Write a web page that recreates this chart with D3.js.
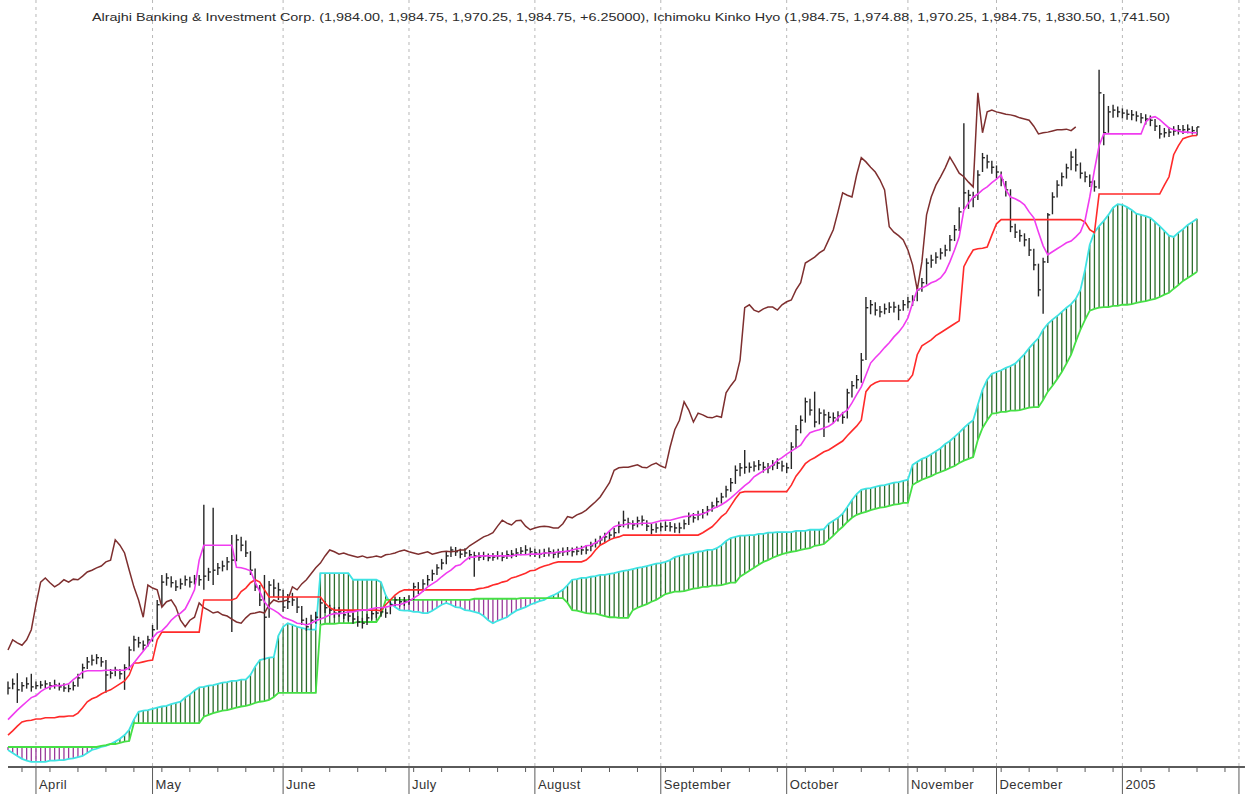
<!DOCTYPE html>
<html>
<head>
<meta charset="utf-8">
<script src="https://cdn.jsdelivr.net/npm/d3@7"></script>
<style>
  body { margin: 0; background: #fff; }
  svg { display: block; }
</style>
</head>
<body>
<script>
const WIDTH = 1251
const HEIGHT = 794

// Cours journaliers (plus haut, plus bas, clôture)
const high = [1053,1058,1067,1052,1060,1066,1053,1054,1055,1052,
  1056,1051,1050,1048,1053,1066,1083,1094,1098,1099,
  1094,1089,1074,1078,1074,1082,1112,1130,1128,1122,
  1130,1148,1190,1232,1235,1230,1223,1226,1231,1229,
  1232,1232,1350,1244,1345,1252,1256,1262,1299,1300,
  1296,1290,1272,1243,1215,1232,1222,1225,1219,1207,
  1200,1202,1195,1180,1160,1165,1170,1192,1188,1182,
  1178,1178,1175,1172,1168,1163,1160,1167,1174,1176,
  1177,1176,1188,1196,1195,1195,1198,1219,1220,1225,
  1232,1241,1250,1259,1271,1280,1279,1276,1277,1274,
  1271,1270,1271,1268,1269,1272,1270,1273,1274,1277,
  1279,1282,1278,1276,1275,1276,1278,1275,1276,1278,
  1279,1278,1280,1281,1282,1288,1293,1298,1303,1306,
  1311,1322,1340,1328,1324,1330,1332,1324,1318,1319,
  1320,1322,1321,1319,1320,1325,1337,1336,1340,1343,
  1348,1355,1362,1370,1382,1395,1416,1420,1442,1421,
  1423,1425,1422,1420,1425,1428,1424,1420,1455,1484,
  1500,1530,1528,1540,1512,1510,1506,1505,1507,1506,
  1545,1558,1568,1605,1699,1694,1690,1684,1688,1690,
  1691,1686,1694,1699,1702,1719,1731,1764,1770,1774,
  1781,1787,1803,1820,1850,1991,1879,1876,1912,1941,
  1938,1928,1920,1910,1894,1880,1822,1812,1806,1798,
  1780,1755,1765,1840,1875,1895,1908,1923,1944,1948,
  1925,1910,1905,1895,2081,2040,2020,2022,2019,2016,
  2014,2013,2011,2008,2006,2004,1998,1988,1983,1984,
  1986,1988,1988,1989,1986,1984.75]

const low = [1031,1040,1017,1036,1041,1036,1040,1041,1042,1039,
  1041,1038,1036,1035,1038,1044,1058,1074,1080,1082,
  1078,1034,1058,1062,1057,1039,1072,1104,1110,1105,
  1112,1120,1140,1180,1214,1211,1205,1208,1214,1211,
  1216,1214,1207,1222,1215,1232,1238,1240,1136,1255,
  1272,1262,1232,1205,1180,1089,1160,1195,1190,1170,
  1175,1180,1168,1148,1138,1140,1150,1158,1168,1165,
  1160,1162,1158,1155,1150,1145,1142,1148,1157,1160,
  1162,1160,1166,1180,1179,1180,1182,1190,1200,1204,
  1214,1222,1232,1241,1250,1262,1264,1260,1262,1258,
  1229,1256,1257,1255,1256,1258,1255,1259,1260,1262,
  1265,1266,1263,1262,1260,1262,1263,1260,1261,1264,
  1265,1263,1265,1266,1267,1272,1278,1282,1287,1290,
  1294,1302,1312,1310,1308,1312,1315,1306,1300,1303,
  1305,1306,1305,1303,1302,1309,1316,1320,1324,1327,
  1332,1338,1345,1352,1362,1372,1385,1398,1402,1404,
  1406,1408,1404,1403,1408,1410,1406,1403,1410,1445,
  1470,1488,1500,1480,1485,1464,1488,1487,1490,1486,
  1495,1530,1545,1555,1593,1670,1668,1665,1670,1672,
  1673,1660,1676,1680,1684,1692,1708,1720,1748,1755,
  1762,1767,1776,1793,1810,1847,1847,1850,1862,1909,
  1915,1906,1898,1885,1868,1808,1798,1792,1784,1768,
  1744,1700,1671,1756,1838,1866,1885,1898,1912,1910,
  1898,1892,1884,1876,1881,1954,1975,2000,2001,1999,
  1997,1996,1994,1991,1989,1986,1978,1965,1967,1968,
  1970,1972,1973,1974,1972,1970.25]

const close = [1042,1049,1039,1046,1049,1044,1046,1047,1049,1046,
  1047,1044,1042,1041,1046,1059,1076,1086,1089,1093,
  1086,1064,1067,1072,1066,1076,1106,1123,1118,1114,
  1123,1140,1182,1220,1227,1219,1212,1217,1224,1220,
  1225,1224,1230,1237,1240,1244,1247,1254,1257,1291,
  1282,1269,1240,1212,1190,1161,1215,1210,1207,1178,
  1187,1190,1178,1156,1145,1156,1161,1185,1177,1173,
  1168,1170,1165,1163,1158,1153,1151,1160,1167,1168,
  1170,1168,1182,1190,1187,1188,1190,1212,1207,1217,
  1224,1234,1244,1252,1264,1274,1271,1267,1269,1266,
  1264,1262,1264,1261,1262,1264,1262,1266,1267,1269,
  1272,1274,1271,1269,1267,1269,1271,1267,1269,1271,
  1272,1271,1272,1274,1274,1281,1286,1291,1296,1299,
  1303,1314,1324,1319,1316,1323,1324,1314,1308,1311,
  1313,1314,1313,1311,1311,1318,1330,1328,1333,1336,
  1341,1348,1355,1363,1375,1387,1408,1412,1413,1413,
  1415,1417,1413,1412,1417,1420,1415,1412,1447,1476,
  1492,1523,1509,1489,1504,1501,1497,1496,1499,1497,
  1538,1550,1560,1593,1681,1686,1677,1674,1679,1682,
  1682,1677,1686,1691,1694,1711,1723,1756,1761,1766,
  1773,1778,1795,1812,1842,1874,1870,1867,1904,1933,
  1926,1917,1909,1896,1879,1817,1808,1802,1795,1778,
  1753,1711,1758,1837,1867,1887,1901,1916,1934,1921,
  1907,1901,1892,1884,2042,1975,2010,2013,2010,2008,
  2006,2005,2003,2000,1998,1996,1986,1973,1975,1976,
  1978,1980,1980,1981,1978.5,1984.75]

// Ichimoku : Tenkan, Kijun, Senkou A, Senkou B
const tenkan = [989,997,1005,1012,1019,1026,1029,1036,1041,1044,
  1046,1046,1047,1049,1056,1062,1069,1071,1071,1071,
  1071,1072,1072,1072,1072,1072,1076,1084,1094,1104,
  1114,1126,1135,1138,1146,1156,1163,1168,1175,1190,
  1207,1257,1282,1282,1282,1282,1282,1282,1282,1245,
  1244,1242,1239,1220,1204,1187,1177,1173,1168,1161,
  1158,1155,1151,1150,1148,1151,1155,1158,1161,1165,
  1167,1167,1168,1170,1170,1172,1173,1173,1175,1177,
  1177,1178,1180,1182,1182,1185,1188,1193,1198,1205,
  1212,1217,1222,1229,1235,1240,1247,1249,1256,1262,
  1262,1264,1264,1264,1264,1264,1264,1264,1264,1266,
  1266,1266,1267,1267,1267,1269,1269,1269,1271,1271,
  1272,1274,1276,1277,1281,1282,1286,1291,1298,1306,
  1313,1316,1316,1318,1318,1318,1319,1319,1319,1321,
  1323,1324,1324,1326,1328,1330,1331,1333,1333,1335,
  1338,1343,1346,1350,1355,1361,1368,1375,1382,1388,
  1397,1402,1407,1412,1417,1424,1429,1435,1440,1445,
  1450,1462,1471,1474,1476,1479,1482,1487,1496,1504,
  1509,1521,1535,1548,1568,1588,1597,1605,1614,1622,
  1632,1640,1650,1664,1689,1711,1714,1718,1723,1726,
  1731,1741,1758,1778,1800,1845,1857,1867,1872,1879,
  1884,1891,1897,1904,1879,1867,1864,1860,1854,1842,
  1832,1808,1785,1770,1775,1780,1785,1790,1793,1800,
  1808,1828,1867,1912,1953,1973,1973,1973,1973,1973,
  1973,1973,1973,1973,1993,2000,2002,1997,1990,1983,
  1980,1978,1976,1976,1975,1974.88]

const kijun = [963,970,978,985,987,988,990,990,992,992,
  992,994,994,995,995,1000,1009,1019,1024,1027,
  1032,1036,1039,1044,1049,1054,1064,1084,1084,1086,
  1088,1089,1123,1136,1136,1136,1136,1136,1136,1136,
  1136,1136,1190,1190,1190,1190,1190,1190,1190,1193,
  1204,1210,1219,1224,1220,1207,1195,1195,1195,1195,
  1195,1195,1195,1195,1195,1195,1195,1195,1185,1177,
  1173,1173,1173,1173,1173,1173,1173,1173,1173,1173,
  1172,1182,1190,1198,1204,1207,1207,1207,1207,1207,
  1207,1207,1207,1207,1207,1207,1207,1207,1207,1207,
  1207,1209,1210,1212,1215,1217,1220,1222,1227,1229,
  1232,1235,1239,1240,1244,1247,1249,1252,1254,1254,
  1254,1254,1254,1254,1257,1264,1274,1282,1286,1291,
  1294,1296,1299,1299,1299,1299,1299,1299,1299,1299,
  1299,1299,1299,1299,1299,1299,1299,1299,1299,1303,
  1308,1313,1321,1330,1336,1348,1360,1370,1372,1372,
  1372,1372,1372,1372,1372,1372,1372,1372,1383,1398,
  1408,1419,1425,1429,1434,1439,1442,1447,1452,1457,
  1466,1474,1482,1492,1540,1550,1555,1558,1558,1558,
  1558,1558,1558,1558,1568,1602,1617,1622,1627,1634,
  1639,1644,1649,1654,1659,1750,1765,1778,1780,1781,
  1783,1803,1822,1829,1829,1829,1829,1829,1829,1829,
  1829,1829,1829,1829,1829,1829,1829,1829,1829,1829,
  1829,1825,1812,1807,1872,1872,1872,1872,1872,1872,
  1872,1872,1872,1872,1872,1872,1872,1872,1887,1901,
  1938,1953,1965,1968,1970,1970.25]

const senkouA = [938,933,928,923,920,918,918,918,918,920,
  920,921,921,923,924,926,928,933,938,940,
  943,945,948,952,957,963,972,989,1002,1004,
  1005,1007,1009,1011,1012,1015,1017,1019,1026,1031,
  1038,1043,1044,1046,1047,1049,1051,1052,1054,1054,
  1056,1056,1064,1078,1089,1091,1093,1094,1130,1145,
  1151,1148,1145,1143,1141,1140,1140,1235,1235,1235,
  1235,1235,1235,1235,1224,1224,1224,1224,1224,1224,
  1220,1198,1185,1178,1173,1172,1172,1170,1170,1168,
  1168,1172,1177,1182,1185,1182,1178,1177,1173,1172,
  1170,1168,1163,1156,1151,1155,1158,1161,1167,1172,
  1175,1178,1182,1185,1188,1190,1195,1198,1202,1207,
  1215,1224,1225,1227,1227,1229,1230,1232,1232,1234,
  1235,1237,1239,1240,1242,1244,1245,1247,1249,1251,
  1252,1254,1257,1262,1264,1266,1267,1269,1271,1272,
  1274,1274,1277,1282,1289,1294,1296,1298,1298,1299,
  1299,1301,1301,1303,1303,1304,1304,1304,1304,1306,
  1306,1306,1308,1308,1308,1309,1318,1323,1328,1335,
  1346,1358,1368,1375,1377,1378,1380,1382,1383,1385,
  1387,1388,1390,1392,1417,1422,1427,1430,1435,1440,
  1445,1452,1457,1464,1471,1479,1486,1492,1518,1543,
  1560,1570,1573,1576,1580,1583,1587,1595,1603,1613,
  1622,1630,1644,1654,1661,1667,1674,1681,1687,1696,
  1711,1745,1787,1808,1818,1827,1837,1849,1855,1854,
  1850,1845,1839,1837,1835,1832,1825,1818,1810,1802,
  1800,1807,1813,1820,1825,1830.5]

const senkouB = [943,943,943,943,943,943,943,943,943,943,
  943,943,943,943,943,943,943,943,943,943,
  945,946,948,948,950,952,953,983,983,983,
  983,983,983,983,983,983,983,983,983,983,
  983,983,994,997,1000,1002,1004,1005,1007,1009,
  1011,1012,1014,1017,1019,1020,1022,1027,1034,1034,
  1034,1034,1034,1034,1034,1034,1034,1148,1150,1150,
  1150,1151,1151,1151,1151,1153,1153,1153,1153,1153,
  1165,1190,1190,1190,1190,1190,1190,1190,1190,1190,
  1190,1190,1190,1190,1190,1190,1190,1190,1190,1190,
  1192,1192,1192,1192,1192,1192,1192,1192,1192,1192,
  1193,1193,1193,1193,1193,1193,1193,1193,1193,1193,
  1185,1173,1172,1170,1168,1167,1167,1165,1163,1161,
  1161,1160,1160,1160,1173,1177,1180,1183,1187,1190,
  1195,1200,1202,1204,1204,1205,1207,1209,1210,1212,
  1212,1214,1214,1215,1217,1219,1219,1229,1234,1239,
  1244,1249,1254,1257,1261,1264,1267,1269,1271,1272,
  1274,1276,1277,1281,1282,1284,1291,1298,1306,1313,
  1321,1328,1333,1336,1338,1341,1343,1345,1346,1348,
  1350,1351,1353,1353,1383,1388,1392,1395,1398,1402,
  1405,1408,1412,1415,1420,1424,1427,1430,1459,1479,
  1492,1503,1504,1506,1506,1508,1508,1509,1511,1513,
  1514,1514,1526,1540,1550,1561,1573,1587,1602,1624,
  1644,1661,1676,1679,1681,1682,1682,1684,1684,1686,
  1686,1687,1689,1691,1692,1694,1696,1699,1703,1706,
  1713,1719,1726,1731,1736,1741.5]

// Axe des dates (indice de séance du début de chaque mois)
const monthLabels = ["April", "May", "June", "July", "August", "September", "October", "November", "December", "2005", ""]
const monthStarts = [6, 31, 59, 86, 113, 140, 167, 193, 212, 239, 264]
const CHIKOU_SHIFT = 26

const title = "Alrajhi Banking & Investment Corp. (1,984.00, 1,984.75, 1,970.25, 1,984.75, +6.25000), Ichimoku Kinko Hyo (1,984.75, 1,974.88, 1,970.25, 1,984.75, 1,830.50, 1,741.50)"

const AXIS_Y = 767

const x = d3.scaleLinear().domain([0, close.length - 1]).range([8, 1197])
const y = d3.scaleLinear().domain([864, 2198]).range([HEIGHT, 0])

const svg = d3.select("body").append("svg")
    .attr("width", WIDTH)
    .attr("height", HEIGHT)
    .style("font-family", "'Liberation Sans', Arial, sans-serif")

// Grille verticale pointillée
svg.append("g")
    .selectAll("line")
    .data(monthStarts)
    .enter()
    .append("line")
    .attr("x1", d => x(d))
    .attr("x2", d => x(d))
    .attr("y1", 0)
    .attr("y2", AXIS_Y)
    .attr("stroke", "#b8b8b8")
    .attr("stroke-dasharray", "3,4")

// Titre
svg.append("text")
    .attr("x", 92)
    .attr("y", 21)
    .attr("textLength", 1078)
    .attr("lengthAdjust", "spacingAndGlyphs")
    .attr("font-size", 11.5)
    .attr("fill", "#2b2b2b")
    .text(title)

// Nuage (hachures)
const idx = d3.range(close.length)
svg.append("g")
    .selectAll("line")
    .data(idx)
    .enter()
    .append("line")
    .attr("x1", i => x(i))
    .attr("x2", i => x(i))
    .attr("y1", i => y(senkouA[i]))
    .attr("y2", i => y(senkouB[i]))
    .attr("stroke", i => senkouA[i] >= senkouB[i] ? "#2c6e2c" : "#9a3a9a")
    .attr("stroke-width", 1.3)

const line = d3.line().x((d, i) => x(i)).y(d => y(d))

svg.append("path").datum(senkouA)
    .attr("d", line).attr("fill", "none")
    .attr("stroke", "#3fe3e3").attr("stroke-width", 1.8)

svg.append("path").datum(senkouB)
    .attr("d", line).attr("fill", "none")
    .attr("stroke", "#45e045").attr("stroke-width", 1.8)

// Barres de prix
const bars = svg.append("g").attr("stroke", "#262626").attr("stroke-width", 1.4)
bars.selectAll("line.hl")
    .data(idx)
    .enter()
    .append("line")
    .attr("class", "hl")
    .attr("x1", i => x(i))
    .attr("x2", i => x(i))
    .attr("y1", i => y(high[i]))
    .attr("y2", i => y(low[i]))
bars.selectAll("line.cl")
    .data(idx)
    .enter()
    .append("line")
    .attr("class", "cl")
    .attr("x1", i => x(i))
    .attr("x2", i => x(i) + 2.4)
    .attr("y1", i => y(close[i]))
    .attr("y2", i => y(close[i]))

// Chikou (clôture décalée de 26 séances)
svg.append("path").datum(close.slice(CHIKOU_SHIFT))
    .attr("d", line).attr("fill", "none")
    .attr("stroke", "#7e2f2f").attr("stroke-width", 1.5)

svg.append("path").datum(kijun)
    .attr("d", line).attr("fill", "none")
    .attr("stroke", "#ff2a2a").attr("stroke-width", 1.6)

svg.append("path").datum(tenkan)
    .attr("d", line).attr("fill", "none")
    .attr("stroke", "#f03cf0").attr("stroke-width", 1.6)

// Axe X
const axis = svg.append("g").attr("stroke", "#5a5a5a")
axis.append("line")
    .attr("x1", 8).attr("x2", x(monthStarts[monthStarts.length - 1]) + 6)
    .attr("y1", AXIS_Y).attr("y2", AXIS_Y)
    .attr("stroke-width", 2)

axis.selectAll("line.week")
    .data(d3.range(3, 266, 6))
    .enter()
    .append("line")
    .attr("class", "week")
    .attr("x1", d => x(d)).attr("x2", d => x(d))
    .attr("y1", AXIS_Y).attr("y2", AXIS_Y + 5)

axis.selectAll("line.month")
    .data(monthStarts)
    .enter()
    .append("line")
    .attr("class", "month")
    .attr("x1", d => x(d)).attr("x2", d => x(d))
    .attr("y1", AXIS_Y).attr("y2", HEIGHT)

svg.append("g")
    .selectAll("text")
    .data(monthStarts)
    .enter()
    .append("text")
    .attr("x", d => x(d) + 3)
    .attr("y", 789)
    .attr("font-size", 13)
    .attr("letter-spacing", 0.4)
    .attr("fill", "#333")
    .text((d, i) => monthLabels[i])
</script>
</body>
</html>
